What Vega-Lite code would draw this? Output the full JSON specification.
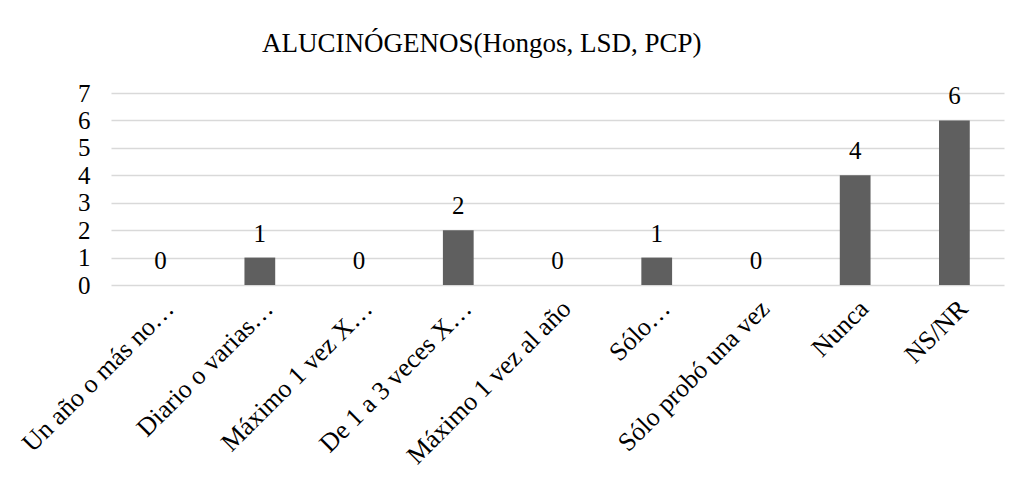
{
  "$schema": "https://vega.github.io/schema/vega-lite/v6.json",
  "autosize": {"type": "none"},
  "padding": {"left": 111, "top": 93, "right": 19, "bottom": 208},
  "width": 893,
  "height": 192,
  "background": "white",
  "title": {
    "text": "ALUCINÓGENOS(Hongos, LSD, PCP)",
    "font": "Liberation Serif",
    "fontSize": 27,
    "fontWeight": "normal",
    "color": "#000000",
    "anchor": "start",
    "frame": "group",
    "dx": 151,
    "offset": 23
  },
  "data": {
    "values": [
      {"cat": "Un año o más no…", "v": 0},
      {"cat": "Diario o varias…", "v": 1},
      {"cat": "Máximo 1 vez X…", "v": 0},
      {"cat": "De 1 a 3 veces X…", "v": 2},
      {"cat": "Máximo 1 vez al año", "v": 0},
      {"cat": "Sólo…", "v": 1},
      {"cat": "Sólo probó una vez", "v": 0},
      {"cat": "Nunca", "v": 4},
      {"cat": "NS/NR", "v": 6}
    ]
  },
  "encoding": {
    "x": {
      "field": "cat", "type": "nominal", "sort": null,
      "scale": {"paddingInner": 0.69, "paddingOuter": 0.345},
      "axis": {
        "title": null, "domain": false, "ticks": false, "grid": false,
        "labelAngle": -45, "labelAlign": "right", "labelBaseline": "top",
        "labelFont": "Liberation Serif", "labelFontSize": 26, "labelColor": "#000000",
        "labelPadding": 10, "labelDx": 5, "labelLimit": 400
      }
    },
    "y": {
      "field": "v", "type": "quantitative",
      "scale": {"domain": [0, 7], "nice": false},
      "axis": {
        "title": null, "domain": false, "ticks": false,
        "values": [0, 1, 2, 3, 4, 5, 6, 7],
        "gridColor": "#d9d9d9", "gridWidth": 1.5,
        "labelFont": "Liberation Serif", "labelFontSize": 25, "labelColor": "#000000",
        "labelPadding": 21
      }
    }
  },
  "layer": [
    {"mark": {"type": "bar", "color": "#5f5f5f"}},
    {
      "mark": {"type": "text", "font": "Liberation Serif", "fontSize": 25, "color": "#000000", "baseline": "alphabetic", "dy": -16},
      "encoding": {"text": {"field": "v", "type": "quantitative"}}
    }
  ],
  "config": {"view": {"stroke": null}}
}
